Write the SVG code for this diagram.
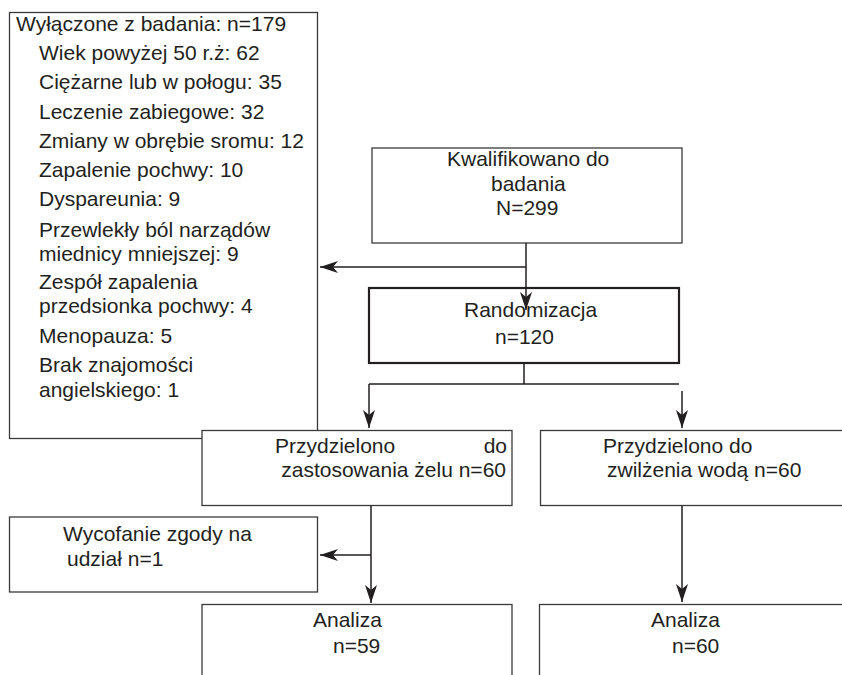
<svg xmlns="http://www.w3.org/2000/svg" width="842" height="675" viewBox="0 0 842 675">
<style>
.box{fill:#fff;stroke:#3a3a3a;stroke-width:1.3}
.thick{stroke:#231f20;stroke-width:2.2}
.t{font-family:"Liberation Sans",Arial,sans-serif;font-size:21px;fill:#231f20}
.c{fill:none;stroke:#231f20;stroke-width:1.5}
</style>
<defs>
<marker id="ah" markerUnits="userSpaceOnUse" viewBox="0 0 18 12" refX="18" refY="6" markerWidth="18" markerHeight="12" orient="auto">
<path d="M0,0 L18,6 L0,12 L5,6 Z" fill="#231f20"/>
</marker>
</defs>
<rect width="842" height="675" fill="#fff"/>
<g id="excluded">
<rect class="box" x="9.5" y="12.5" width="308" height="426"/>
<text class="t" x="16" y="30.5">Wyłączone z badania: n=179</text>
<text class="t" x="39" y="60">Wiek powyżej 50 r.ż: 62</text>
<text class="t" x="39" y="89">Ciężarne lub w połogu: 35</text>
<text class="t" x="39" y="119">Leczenie zabiegowe: 32</text>
<text class="t" x="39" y="148">Zmiany w obrębie sromu: 12</text>
<text class="t" x="39" y="177">Zapalenie pochwy: 10</text>
<text class="t" x="39" y="206">Dyspareunia: 9</text>
<text class="t" x="39" y="237">Przewlekły ból narządów</text>
<text class="t" x="39" y="261">miednicy mniejszej: 9</text>
<text class="t" x="39" y="289">Zespół zapalenia</text>
<text class="t" x="39" y="313">przedsionka pochwy: 4</text>
<text class="t" x="39" y="343">Menopauza: 5</text>
<text class="t" x="39" y="372">Brak znajomości</text>
<text class="t" x="39" y="397">angielskiego: 1</text>
</g>
<g id="qualified">
<rect class="box" x="372" y="148" width="310" height="95"/>
<text class="t" x="447" y="166">Kwalifikowano do</text>
<text class="t" x="491" y="190.5">badania</text>
<text class="t" x="496" y="215">N=299</text>
</g>
<g id="randomization">
<rect class="box thick" x="369" y="288" width="310" height="75"/>
<text class="t" x="464" y="317">Randomizacja</text>
<text class="t" x="495" y="344">n=120</text>
</g>
<g id="gel">
<rect class="box" x="202" y="430.5" width="310" height="75"/>
<text class="t" x="275" y="453">Przydzielono</text>
<text class="t" x="507" y="453" text-anchor="end">do</text>
<text class="t" x="506" y="477" text-anchor="end">zastosowania żelu n=60</text>
</g>
<g id="water">
<rect class="box" x="540.5" y="430.5" width="320" height="75"/>
<text class="t" x="603" y="453">Przydzielono do</text>
<text class="t" x="607" y="477">zwilżenia wodą n=60</text>
</g>
<g id="withdrawn">
<rect class="box" x="9.5" y="517" width="308" height="75"/>
<text class="t" x="63" y="541">Wycofanie zgody na</text>
<text class="t" x="67" y="566">udział n=1</text>
</g>
<g id="analysis-gel">
<rect class="box" x="202" y="604.5" width="310" height="90"/>
<text class="t" x="313" y="627">Analiza</text>
<text class="t" x="333" y="653">n=59</text>
</g>
<g id="analysis-water">
<rect class="box" x="539.5" y="604.5" width="320" height="90"/>
<text class="t" x="651" y="627">Analiza</text>
<text class="t" x="672" y="653">n=60</text>
</g>
<g id="connectors">
<path class="c" d="M526,243 V310" marker-end="url(#ah)"/>
<path class="c" d="M526,267 H320" marker-end="url(#ah)"/>
<path class="c" d="M524,363 V384 M369,384 H679"/>
<path class="c" d="M369,384 V428" marker-end="url(#ah)"/>
<path class="c" d="M682,391 V428" marker-end="url(#ah)"/>
<path class="c" d="M371,505.5 V603" marker-end="url(#ah)"/>
<path class="c" d="M371,555 H320" marker-end="url(#ah)"/>
<path class="c" d="M682,505.5 V602" marker-end="url(#ah)"/>
</g>
</svg>
